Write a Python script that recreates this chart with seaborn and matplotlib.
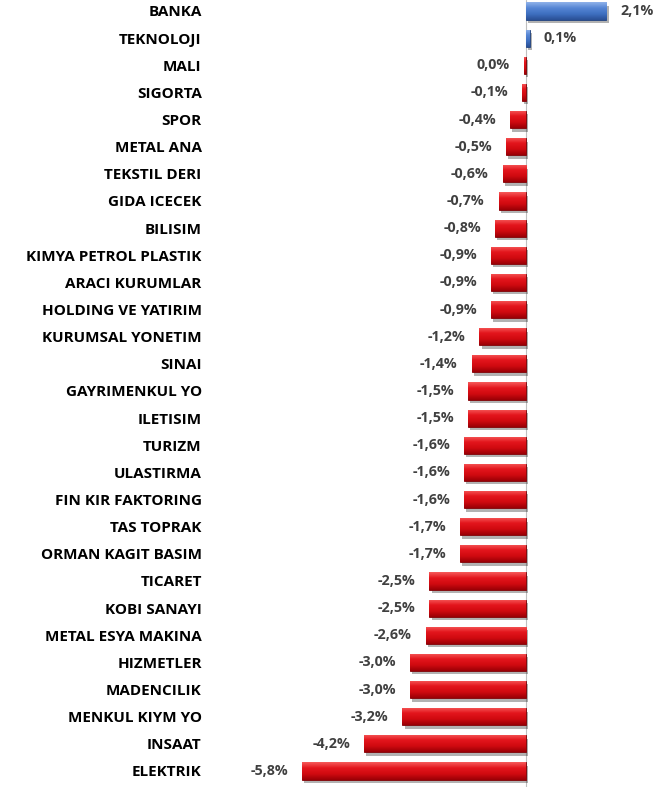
import numpy as np
import pandas as pd
import matplotlib
matplotlib.use("Agg")
import matplotlib.pyplot as plt
import matplotlib.patheffects as pe
from matplotlib.colors import LinearSegmentedColormap
import seaborn as sns

categories = ["BANKA", "TEKNOLOJI", "MALI", "SIGORTA", "SPOR", "METAL ANA",
              "TEKSTIL DERI", "GIDA ICECEK", "BILISIM", "KIMYA PETROL PLASTIK",
              "ARACI KURUMLAR", "HOLDING VE YATIRIM", "KURUMSAL YONETIM", "SINAI",
              "GAYRIMENKUL YO", "ILETISIM", "TURIZM", "ULASTIRMA", "FIN KIR FAKTORING",
              "TAS TOPRAK", "ORMAN KAGIT BASIM", "TICARET", "KOBI SANAYI",
              "METAL ESYA MAKINA", "HIZMETLER", "MADENCILIK", "MENKUL KIYM YO",
              "INSAAT", "ELEKTRIK"]
values = [2.1, 0.1, -0.04, -0.1, -0.4, -0.5, -0.6, -0.7, -0.8, -0.9, -0.9, -0.9,
          -1.2, -1.4, -1.5, -1.5, -1.6, -1.6, -1.6, -1.7, -1.7, -2.5, -2.5, -2.6,
          -3.0, -3.0, -3.2, -4.2, -5.8]

df = pd.DataFrame({"cat": categories, "val": values})
POS = "#4A7BCB"
NEG = "#E0141C"
palette = {c: (POS if v > 0 else NEG) for c, v in zip(categories, values)}

sns.set_theme(style="white")
plt.rcParams["font.family"] = ["Open Sans", "DejaVu Sans"]

fig = plt.figure(figsize=(6.69, 7.87), dpi=100)
ax = fig.add_axes([210 / 669, 0, 450 / 669, 1])

sns.barplot(data=df, x="val", y="cat", hue="cat", palette=palette, legend=False,
            orient="h", width=0.63, ax=ax, saturation=1)

grad_neg = LinearSegmentedColormap.from_list("n", ["#F65A5A", "#E3151C", "#D00A10", "#9A0006"])
grad_pos = LinearSegmentedColormap.from_list("p", ["#8FB2EA", "#5585D4", "#3E6FC0", "#2A4F95"])
g = np.linspace(0, 1, 64).reshape(-1, 1)

for patch in ax.patches:
    w = patch.get_width()
    x0 = patch.get_x()
    y0 = patch.get_y()
    h = patch.get_height()
    pos = w > 0
    edge = "#1F3F7A" if pos else "#7A0004"
    patch.set_edgecolor(edge)
    patch.set_linewidth(0.6)
    patch.set_path_effects([pe.SimplePatchShadow(offset=(1.5, -2.5), shadow_rgbFace="#000000", alpha=0.3),
                            pe.Normal()])
    im = ax.imshow(g, cmap=grad_pos if pos else grad_neg, aspect="auto",
                   extent=(min(x0, x0 + w), max(x0, x0 + w), y0 + h, y0),
                   zorder=patch.get_zorder() + 0.1, interpolation="bilinear")
    im.set_clip_path(patch)

ax.set_xlim(-8.2, 3.49)
ax.set_ylim(28.59, -0.405)

ax.axvline(0, color="#BFBFBF", lw=0.8, zorder=0)

def fmt(v):
    s = f"{v:.1f}"
    if s == "-0.0":
        s = "0.0"
    return s.replace(".", ",") + "%"

for cont in ax.containers:
    labs = [fmt(b.get_width()) for b in cont]
    ax.bar_label(cont, labels=labs, padding=10, fontsize=10.3, fontweight="bold",
                 color="#404040")

ax.set_xlabel("")
ax.set_ylabel("")
ax.set_xticks([])
ax.tick_params(axis="y", length=0, pad=6)
for t in ax.get_yticklabels():
    t.set_fontweight("bold")
    t.set_fontsize(11)
    t.set_color("#000000")
sns.despine(ax=ax, left=True, bottom=True)

fig.savefig("out.png", dpi=100)
